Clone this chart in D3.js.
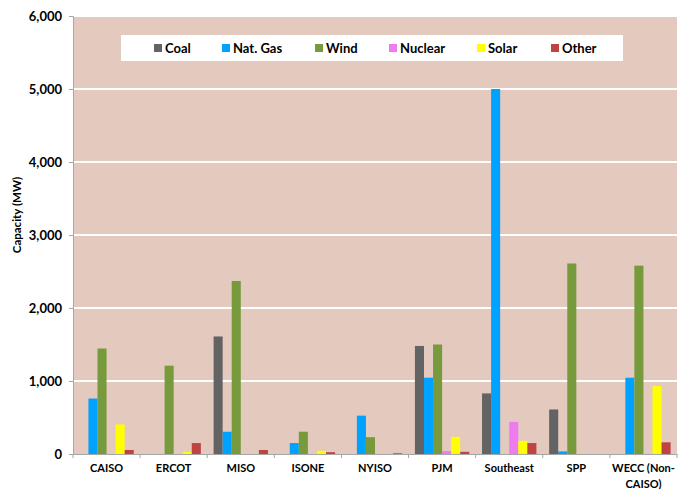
<!DOCTYPE html>
<html>
<head>
<meta charset="utf-8">
<script src="https://cdn.jsdelivr.net/npm/d3@7"></script>
<style>
  body { margin: 0; background: #fff; }
  svg { display: block; font-family: Lato, "Liberation Sans", sans-serif; }
</style>
</head>
<body>
<div id="chart"></div>
<script>
// categories and series (MW)
const regions = ["CAISO", "ERCOT", "MISO", "ISONE", "NYISO", "PJM", "Southeast", "SPP", "WECC (Non-CAISO)"];
const fuels = ["Coal", "Nat. Gas", "Wind", "Nuclear", "Solar", "Other"];
const coal    = [0,    0,    1610, 0,   0,   1480, 830,  610,  0];
const natGas  = [760,  0,    305,  150, 525, 1045, 5000, 35,   1045];
const wind    = [1445, 1210, 2370, 305, 230, 1500, 0,    2610, 2580];
const nuclear = [0,    0,    0,    0,   0,   40,   440,  0,    0];
const solar   = [405,  30,   0,    45,  0,   235,  180,  0,    930];
const other   = [55,   150,  55,   25,  10,  30,   150,  0,    160];
const yTicks  = [0, 1000, 2000, 3000, 4000, 5000, 6000];

const colors = {
  "Coal": "#636363",
  "Nat. Gas": "#00a2ff",
  "Wind": "#779a3d",
  "Nuclear": "#ee7cf0",
  "Solar": "#ffff00",
  "Other": "#bd4440"
};
const series = [coal, natGas, wind, nuclear, solar, other];

const data = regions.map((r, i) => ({
  region: r,
  values: fuels.map((f, j) => ({ fuel: f, value: series[j][i] }))
}));

const width = 688, height = 489;
const margin = { top: 16, right: 11, bottom: 35, left: 73 };

const svg = d3.select("#chart").append("svg")
  .attr("width", width)
  .attr("height", height);

const x0 = d3.scaleBand()
  .domain(regions)
  .range([margin.left, width - margin.right])
  .paddingInner(0)
  .paddingOuter(0);

const x1 = d3.scaleBand()
  .domain(fuels)
  .range([x0.bandwidth() * 0.095, x0.bandwidth() * 0.905])
  .padding(0);

const y = d3.scaleLinear()
  .domain([0, 6000])
  .range([height - margin.bottom, margin.top]);

// plot background
svg.append("rect")
  .attr("x", margin.left)
  .attr("y", margin.top)
  .attr("width", width - margin.left - margin.right)
  .attr("height", height - margin.top - margin.bottom)
  .attr("fill", "#e3c9be");

// gridlines
svg.append("g")
  .selectAll("line")
  .data(yTicks.filter(d => d > 0))
  .join("line")
  .attr("x1", margin.left)
  .attr("x2", width - margin.right)
  .attr("y1", d => y(d))
  .attr("y2", d => y(d))
  .attr("stroke", "#fff")
  .attr("stroke-width", 2);

// bars
svg.append("g")
  .selectAll("g")
  .data(data)
  .join("g")
  .attr("transform", d => `translate(${x0(d.region)},0)`)
  .selectAll("rect")
  .data(d => d.values.filter(v => v.value > 0))
  .join("rect")
  .attr("x", d => x1(d.fuel))
  .attr("y", d => y(d.value))
  .attr("width", x1.bandwidth())
  .attr("height", d => y(0) - y(d.value))
  .attr("fill", d => colors[d.fuel]);

// y axis
const yAxis = svg.append("g")
  .attr("transform", `translate(${margin.left},0)`)
  .call(d3.axisLeft(y).tickValues(yTicks).tickFormat(d3.format(",")).tickSize(4).tickPadding(7));
yAxis.select(".domain").attr("stroke", "#a6a6a6");
yAxis.selectAll(".tick line").attr("stroke", "#a6a6a6");
yAxis.selectAll(".tick text")
  .attr("font-size", 13)
  .attr("font-weight", "bold")
  .attr("fill", "#000")
  .attr("font-family", "Lato, sans-serif");

// x axis
const xAxis = svg.append("g")
  .attr("transform", `translate(0,${y(0)})`)
  .call(d3.axisBottom(x0).tickSize(0).tickPadding(10));
xAxis.select(".domain").attr("stroke", "#a6a6a6");
xAxis.selectAll(".tick text")
  .attr("font-size", 11)
  .attr("font-weight", "bold")
  .attr("fill", "#000")
  .attr("font-family", "Lato, sans-serif")
  .each(function(d) {
    if (d === "WECC (Non-CAISO)") {
      const t = d3.select(this).text(null);
      t.append("tspan").attr("x", 0).attr("dy", "0.71em").text("WECC (Non-");
      t.append("tspan").attr("x", 0).attr("dy", "1.45em").text("CAISO)");
    }
  });
xAxis.selectAll(".tick text").filter(d => d === "WECC (Non-CAISO)").attr("dy", null);

// category separator ticks
svg.append("g")
  .selectAll("line")
  .data(regions.concat(["end"]))
  .join("line")
  .attr("x1", (d, i) => margin.left + i * x0.step())
  .attr("x2", (d, i) => margin.left + i * x0.step())
  .attr("y1", y(0))
  .attr("y2", y(0) + 4)
  .attr("stroke", "#a6a6a6");

// y title
svg.append("text")
  .attr("transform", `translate(21,${(margin.top + y(0)) / 2 - 20}) rotate(-90)`)
  .attr("text-anchor", "middle")
  .attr("font-size", 11.5)
  .attr("font-weight", "bold")
  .text("Capacity (MW)");

// legend
const legend = svg.append("g");
legend.append("rect")
  .attr("x", 121)
  .attr("y", 35)
  .attr("width", 502)
  .attr("height", 26)
  .attr("fill", "#fff");

const legendX = [154, 222, 315, 389, 477, 551];
const item = legend.selectAll("g.item")
  .data(fuels)
  .join("g")
  .attr("class", "item")
  .attr("transform", (d, i) => `translate(${legendX[i]},48)`);
item.append("rect")
  .attr("x", 0)
  .attr("y", -4)
  .attr("width", 8)
  .attr("height", 8)
  .attr("fill", d => colors[d]);
item.append("text")
  .attr("x", 11)
  .attr("dy", "0.36em")
  .attr("font-size", 13)
  .attr("font-weight", "bold")
  .text(d => d);
</script>
</body>
</html>
